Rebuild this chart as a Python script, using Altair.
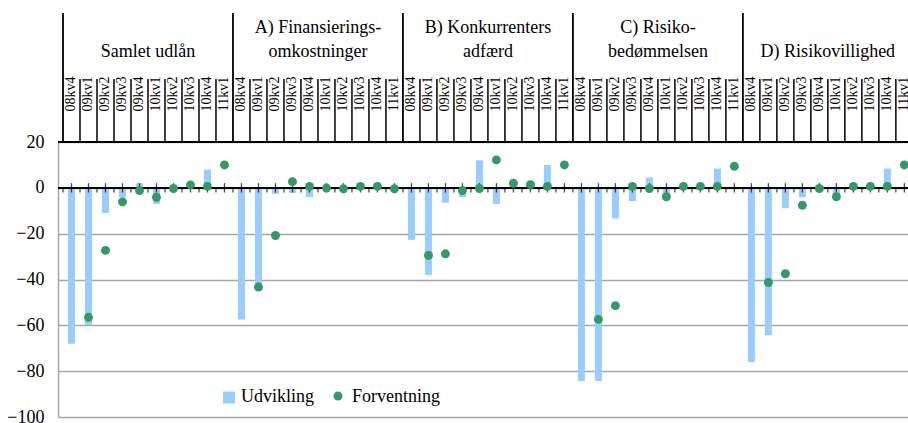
import altair as alt
import pandas as pd

# Quarters shown within every panel
quarters = ["08kv4", "09kv1", "09kv2", "09kv3", "09kv4",
            "10kv1", "10kv2", "10kv3", "10kv4", "11kv1"]

# Panel titles (one or two lines each)
panel_titles = [
    ["Samlet udlån"],
    ["A) Finansierings-", "omkostninger"],
    ["B) Konkurrenters", "adfærd"],
    ["C) Risiko-", "bedømmelsen"],
    ["D) Risikovillighed"],
]

# Udvikling (realised change), net percentage; None = not yet observed
udv_samlet = [-68, -60, -11, -4, 2, -7, 0, 0, 8, None]
udv_a = [-57.5, -42, -2.6, -2.2, -4, 0, 0, 0, 0, None]
udv_b = [-22.7, -38, -6.5, -4, 12, -7, 0, 0, 10, None]
udv_c = [-84.3, -84.3, -13.4, -5.8, 4.5, -4, 0, 0, 8.4, None]
udv_d = [-76, -64.3, -8.9, -4.1, 0, -4, 0, 0, 8.4, None]

# Forventning (expected change), net percentage; None = no expectation asked
fv_samlet = [None, -56.5, -27.3, -6.1, -1.2, -4.1, -0.3, 1.3, 0.6, 10]
fv_a = [None, -43.3, -20.8, 2.7, 0.6, -0.1, -0.4, 0.6, 0.6, -0.4]
fv_b = [None, -29.5, -28.8, -1.2, -0.3, 12.2, 2, 1.4, 0.6, 10]
fv_c = [None, -57.4, -51.4, 0.6, -0.3, -3.9, 0.6, 0.6, 0.6, 9.4]
fv_d = [None, -41.3, -37.5, -7.6, -0.3, -3.9, 0.6, 0.6, 0.6, 10]

y_ticks = [20, 0, -20, -40, -60, -80, -100]

udv_all = [udv_samlet, udv_a, udv_b, udv_c, udv_d]
fv_all = [fv_samlet, fv_a, fv_b, fv_c, fv_d]

FONT = "Liberation Serif"
BLUE = "#99CCFF"
GREEN = "#339966"
W, H = 850, 275
N_SLOTS = 49.42  # visible slots across the plot width

rows = []
for g, (u_list, f_list) in enumerate(zip(udv_all, fv_all)):
    for q, (u, f) in enumerate(zip(u_list, f_list)):
        rows.append({"pos": g * 10 + q + 0.5, "kvartal": quarters[q],
                     "udv": u, "fv": f})
df = pd.DataFrame(rows)

bounds_inner = pd.DataFrame({"b": [g * 10 + k for g in range(5) for k in range(1, 10)]})
bounds_group = pd.DataFrame({"b": [g * 10 for g in range(5)]})
bounds_all = pd.DataFrame({"b": [g * 10 + k for g in range(5) for k in range(0, 10)]})

title_rows = []
for g, lines in enumerate(panel_titles):
    for i, line in enumerate(lines):
        # the last line of every title sits on the lower baseline
        title_rows.append({"pos": g * 10 + 5, "t": line,
                           "r": len(lines) - 1 - i})
titles = pd.DataFrame(title_rows)

xs = alt.Scale(domain=[0, N_SLOTS], nice=False, zero=False)
ys = alt.Scale(domain=[-100, 20], nice=False)
y_axis = alt.Axis(
    values=y_ticks, grid=True, gridColor="#A6A6A6", gridWidth=1.5,
    domain=True, domainColor="#A6A6A6", domainWidth=1.5,
    ticks=False, labelFont=FONT, labelFontSize=18, labelColor="black",
    labelPadding=14, title=None)


def X(f):
    return alt.X(f, scale=xs, axis=None)


def Yf(f):
    return alt.Y(f, scale=ys, axis=y_axis)


def Y0():
    return alt.Y(datum=0, scale=ys, axis=y_axis)


base = alt.Chart(df)

bars = base.transform_filter("isValid(datum.udv)").mark_bar(
    size=7, color=BLUE).encode(
    x=X("pos:Q"), y=Yf("udv:Q"), y2=alt.datum(0))

dots = base.transform_filter("isValid(datum.fv)").mark_circle(
    size=80, color=GREEN, opacity=1).encode(
    x=X("pos:Q"), y=Yf("fv:Q"))

# black baseline at zero and top border line
zero_line = alt.Chart(df).mark_rule(color="black", strokeWidth=1.5).encode(
    x=alt.value(0), x2=alt.value(W), y=Y0())
top_line = alt.Chart(df).mark_rule(color="black", strokeWidth=1.5).encode(
    x=alt.value(0), x2=alt.value(W), y=alt.value(0))

# tick marks on the zero line
centre_ticks = base.mark_tick(orient="vertical", size=9.4, thickness=1.3,
                              color="black").encode(
    x=X("pos:Q"), y=Y0())
bound_ticks = alt.Chart(bounds_all).mark_tick(
    orient="vertical", size=4.7, thickness=1.3, color="black",
    yOffset=2.35).encode(
    x=X("b:Q"), y=Y0())

# header grid: slot separators and panel separators
slot_lines = alt.Chart(bounds_inner).mark_rule(
    color="black", strokeWidth=1.5).encode(
    x=X("b:Q"), y=alt.value(-63), y2=alt.value(0))
group_lines = alt.Chart(bounds_group).mark_rule(
    color="black", strokeWidth=1.8).encode(
    x=X("b:Q"), y=alt.value(-129), y2=alt.value(0))

quarter_labels = base.mark_text(
    angle=270, align="center", baseline="middle", font=FONT,
    fontSize=14, color="black").encode(
    x=X("pos:Q"), y=alt.value(-48), text="kvartal:N")

title_lower = alt.Chart(titles).transform_filter("datum.r == 0").mark_text(
    align="center", baseline="alphabetic", font=FONT, fontSize=18,
    color="black").encode(x=X("pos:Q"), y=alt.value(-85), text="t:N")
title_upper = alt.Chart(titles).transform_filter("datum.r == 1").mark_text(
    align="center", baseline="alphabetic", font=FONT, fontSize=18,
    color="black").encode(x=X("pos:Q"), y=alt.value(-109), text="t:N")

# legend drawn inside the plot area
legend_df = pd.DataFrame({"k": [0]})
leg_sq = alt.Chart(legend_df).mark_square(
    size=144, color=BLUE, opacity=1).encode(
    x=alt.value(171), y=alt.value(255.5))
leg_sq_txt = alt.Chart(legend_df).mark_text(
    align="left", baseline="middle", font=FONT, fontSize=18,
    color="black").encode(
    x=alt.value(183), y=alt.value(255), text=alt.value("Udvikling"))
leg_dot = alt.Chart(legend_df).mark_circle(
    size=80, color=GREEN, opacity=1).encode(
    x=alt.value(280), y=alt.value(254))
leg_dot_txt = alt.Chart(legend_df).mark_text(
    align="left", baseline="middle", font=FONT, fontSize=18,
    color="black").encode(
    x=alt.value(294), y=alt.value(255), text=alt.value("Forventning"))

chart = alt.layer(
    bars, zero_line, top_line, centre_ticks, bound_ticks, dots,
    slot_lines, group_lines, quarter_labels, title_lower, title_upper,
    leg_sq, leg_sq_txt, leg_dot, leg_dot_txt,
).properties(
    width=W, height=H,
    padding={"left": 58, "top": 142, "right": 0, "bottom": 6},
    autosize=alt.AutoSizeParams(type="none"),
    background="white",
).configure_view(strokeWidth=0).configure_text(font=FONT)

chart.save("out.html", embed_options={"renderer": "svg", "actions": False})
